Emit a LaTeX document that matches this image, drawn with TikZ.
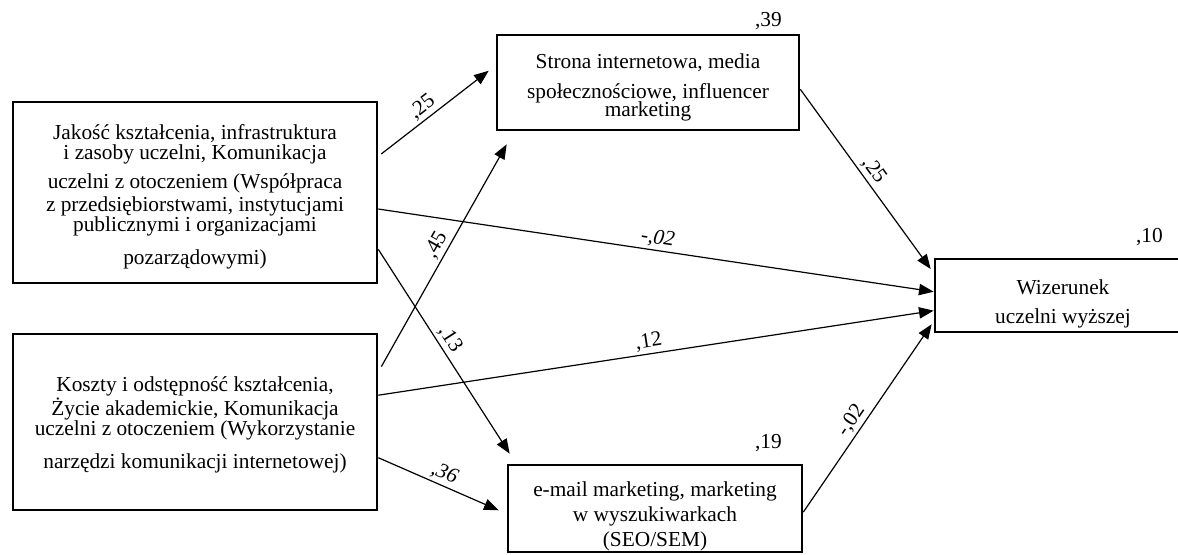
\documentclass[tikz,border=0pt]{standalone}
\usepackage{fontspec}
\setmainfont{Liberation Serif}
\usetikzlibrary{arrows.meta,calc}
\begin{document}
\begin{tikzpicture}[x=0.75pt,y=-0.75pt,
	box/.style={draw,line width=2pt,inner sep=0pt},
	boxtext/.style={align=center,inner sep=0pt,font=\fontsize{16}{15}\selectfont},
	effect/.style={line width=0.9pt,-{Triangle[length=11pt,width=8.5pt]}},
	coef/.style={font=\fontsize{16}{15}\selectfont,sloped,above,inner sep=2pt},
	rsq/.style={font=\fontsize{16}{15}\selectfont,inner sep=0pt}]
	\useasboundingbox (0,0) rectangle (1178,554);
	% factors
	\node[box,minimum width=273pt,minimum height=135.75pt] (jakosc) at (195,192.5) {};
	\node[boxtext,yshift=-3pt] (jakosctext) at (jakosc)
		{Jakość kształcenia, infrastruktura\\ i zasoby uczelni, Komunikacja\\[6.75pt]
		uczelni z otoczeniem (Współpraca\\[2.25pt] z przedsiębiorstwami, instytucjami\\
		publicznymi i organizacjami\\[9.75pt] pozarządowymi)};
	\node[box,minimum width=273pt,minimum height=132pt] (koszty) at (195,422) {};
	\node[boxtext,yshift=-2pt] (kosztytext) at (koszty)
		{Koszty i odstępność kształcenia,\\ Życie akademickie, Komunikacja\\
		uczelni z otoczeniem (Wykorzystanie\\[9.75pt] narzędzi komunikacji internetowej)};
	% mediators
	\node[box,minimum width=226.5pt,minimum height=71.25pt] (strona) at (648,82.5) {};
	\node[boxtext,yshift=-3.75pt] (stronatext) at (strona)
		{Strona internetowa, media\\[7.5pt] społecznościowe, influencer\\[-1.5pt] marketing};
	\node[box,minimum width=220.5pt,minimum height=65.25pt] (email) at (655,508.5) {};
	\node[boxtext,yshift=-6pt] (emailtext) at (email)
		{e-mail marketing, marketing\\[3.75pt] w wyszukiwarkach\\[3.75pt] (SEO/SEM)};
	% outcome
	\node[box,minimum width=192pt,minimum height=54.75pt] (wizerunek) at (1063,295.5) {};
	\node[boxtext,yshift=-6pt] (wizerunektext) at (wizerunek)
		{Wizerunek\\[6.75pt] uczelni wyższej};
	% explained variance
	\node[rsq] (r2strona) at ($(strona.north east)+(-32,-13)$) {,39};
	\node[rsq] (r2email) at ($(email.north east)+(-35,-21)$) {,19};
	\node[rsq] (r2wizerunek) at ($(wizerunek.north east)+(-43,-21)$) {,10};
	% paths
	\draw[effect] ($(jakosc.north east)!0.29!(jakosc.south east)+(3,0)$) -- ($(strona.north west)!0.38!(strona.south west)+(-7,0)$)
		node[coef,pos=0.45] (c1) {,25};
	\draw[effect] ($(jakosc.north east)!0.59!(jakosc.south east)$) -- ($(wizerunek.north west)!0.45!(wizerunek.south west)$)
		node[coef,pos=0.5] (c2) {\itshape -,02};
	\draw[effect] ($(jakosc.north east)!0.81!(jakosc.south east)$) -- ($(email.north west)+(3,-10)$)
		node[coef,pos=0.47] (c3) {,13};
	\draw[effect] ($(koszty.north east)!0.19!(koszty.south east)+(3,0)$) -- ($(strona.south west)+(11,13)$)
		node[coef,pos=0.52] (c4) {,45};
	\draw[effect] ($(koszty.north east)!0.35!(koszty.south east)$) -- ($(wizerunek.north west)!0.70!(wizerunek.south west)$)
		node[coef,pos=0.49] (c5) {,12};
	\draw[effect] ($(koszty.north east)!0.70!(koszty.south east)$) -- ($(email.north west)!0.52!(email.south west)+(-8,0)$)
		node[coef,pos=0.51] (c6) {\itshape ,36};
	\draw[effect] ($(strona.north east)!0.57!(strona.south east)$) -- ($(wizerunek.north west)!0.15!(wizerunek.south west)+(-3,0)$)
		node[coef,pos=0.49] (c7) {,25};
	\draw[effect] ($(email.north east)!0.54!(email.south east)$) -- ($(wizerunek.north west)!0.88!(wizerunek.south west)+(-2,0)$)
		node[coef,pos=0.45] (c8) {-,02};
\end{tikzpicture}
\end{document}
